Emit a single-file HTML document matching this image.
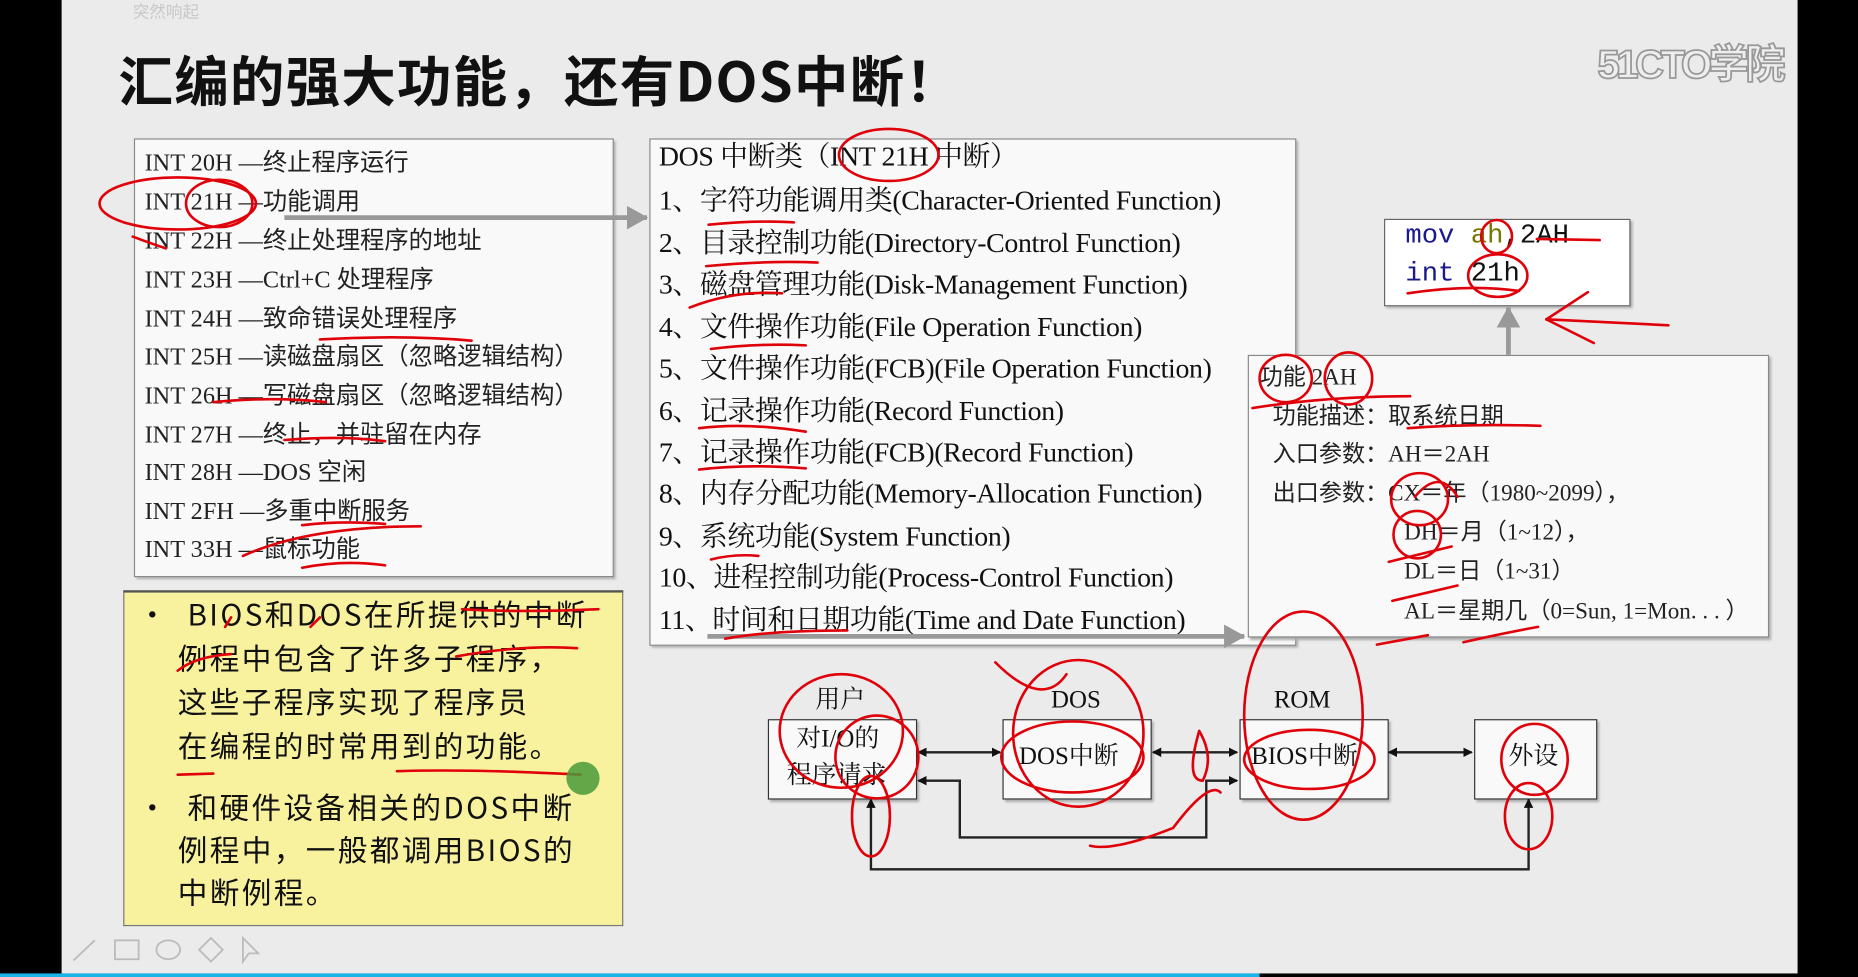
<!DOCTYPE html>
<html><head><meta charset="utf-8"><style>
html,body{margin:0;padding:0;width:1858px;height:977px;overflow:hidden;background:#000}
#s{position:absolute;left:0;top:0;width:1568px;height:826px;transform:scale(1.18495,1.1828);transform-origin:0 0;background:#000;font-family:"Liberation Serif","Noto Serif CJK SC",serif}
.bg{position:absolute;left:52px;top:0;width:1465px;height:823px;background:#ebebeb}
.t{position:absolute;white-space:nowrap;line-height:1}
.box{position:absolute;background:#f9f9f9;border:1px solid #888;box-shadow:2px 2px 2px #aaa}
.l{font-family:"Liberation Serif","Noto Sans CJK SC",sans-serif;font-size:20.5px;color:#222}
.m{font-family:"Liberation Serif","Noto Serif CJK SC",serif;font-size:23.5px;color:#111;letter-spacing:-0.3px}
.r{font-family:"Liberation Serif","Noto Sans CJK SC",sans-serif;font-size:19.5px;color:#222}
.y{font-family:"Noto Sans CJK SC",sans-serif;font-size:25px;color:#111;letter-spacing:2px}
.d{font-family:"Liberation Serif","Noto Serif CJK SC",serif;font-size:21px;color:#111}
</style></head><body><div id="s">
<div class="bg"></div>
<div style="position:absolute;left:0;top:823px;width:1063px;height:3px;background:#19b5e8"></div>
<div class="t" style="left:112px;top:3px;font-size:14px;color:#c8c8c8;font-family:'Noto Sans CJK SC',sans-serif">突然响起</div>
<div class="t" style="left:100px;top:44px;font-size:46px;font-weight:bold;color:#111;font-family:'Noto Sans CJK SC',sans-serif;letter-spacing:1px">汇编的强大功能，还有DOS中断！</div>
<div class="t" style="left:1348px;top:38px;font-size:34px;font-weight:bold;color:#eee;-webkit-text-stroke:1.5px #999;font-family:'Liberation Sans','Noto Sans CJK SC',sans-serif;letter-spacing:-3px">51CTO学院</div>

<div class="box" style="left:113px;top:117px;width:403px;height:369px"></div>
<div class="t l" style="left:122px;top:128px">INT 20H —终止程序运行</div>
<div class="t l" style="left:122px;top:161px">INT 21H —功能调用</div>
<div class="t l" style="left:122px;top:194px">INT 22H —终止处理程序的地址</div>
<div class="t l" style="left:122px;top:227px">INT 23H —Ctrl+C 处理程序</div>
<div class="t l" style="left:122px;top:260px">INT 24H —致命错误处理程序</div>
<div class="t l" style="left:122px;top:292px">INT 25H —读磁盘扇区（忽略逻辑结构）</div>
<div class="t l" style="left:122px;top:325px">INT 26H —写磁盘扇区（忽略逻辑结构）</div>
<div class="t l" style="left:122px;top:358px">INT 27H —终止，并驻留在内存</div>
<div class="t l" style="left:122px;top:390px">INT 28H —DOS 空闲</div>
<div class="t l" style="left:122px;top:423px">INT 2FH —多重中断服务</div>
<div class="t l" style="left:122px;top:455px">INT 33H —鼠标功能</div>

<div class="box" style="left:548px;top:117px;width:544px;height:427px"></div>
<div class="t m" style="left:556px;top:122px">DOS 中断类（INT 21H 中断）</div>
<div class="t m" style="left:556px;top:159px">1、字符功能调用类(Character-Oriented Function)</div>
<div class="t m" style="left:556px;top:195px">2、目录控制功能(Directory-Control Function)</div>
<div class="t m" style="left:556px;top:230px">3、磁盘管理功能(Disk-Management Function)</div>
<div class="t m" style="left:556px;top:266px">4、文件操作功能(File Operation Function)</div>
<div class="t m" style="left:556px;top:301px">5、文件操作功能(FCB)(File Operation Function)</div>
<div class="t m" style="left:556px;top:337px">6、记录操作功能(Record Function)</div>
<div class="t m" style="left:556px;top:372px">7、记录操作功能(FCB)(Record Function)</div>
<div class="t m" style="left:556px;top:407px">8、内存分配功能(Memory-Allocation Function)</div>
<div class="t m" style="left:556px;top:443px">9、系统功能(System Function)</div>
<div class="t m" style="left:556px;top:478px">10、进程控制功能(Process-Control Function)</div>
<div class="t m" style="left:556px;top:514px">11、时间和日期功能(Time and Date Function)</div>

<div class="box" style="left:1168px;top:185px;width:206px;height:72px;background:#fff;border-color:#666"></div>
<div class="t" style="left:1186px;top:188px;font-size:23px;font-family:'Liberation Mono',monospace;color:#111"><span style="color:#1a1a8c">mov</span> <span style="color:#777700">ah</span>,2AH</div>
<div class="t" style="left:1186px;top:220px;font-size:23px;font-family:'Liberation Mono',monospace;color:#111"><span style="color:#1a1a8c">int</span> 21h</div>

<div class="box" style="left:1053px;top:300px;width:438px;height:237px"></div>
<div class="t r" style="left:1063px;top:310px">功能 2AH</div>
<div class="t r" style="left:1074px;top:343px">功能描述：取系统日期</div>
<div class="t r" style="left:1074px;top:375px">入口参数：AH＝2AH</div>
<div class="t r" style="left:1074px;top:408px">出口参数：CX＝年（1980~2099），</div>
<div class="t r" style="left:1185px;top:441px">DH＝月（1~12），</div>
<div class="t r" style="left:1185px;top:474px">DL＝日（1~31）</div>
<div class="t r" style="left:1185px;top:508px">AL＝星期几（0=Sun, 1=Mon. . . ）</div>

<div style="position:absolute;left:104px;top:499px;width:420px;height:281px;background:#f8f29e;border:1px solid #777;border-top:2px solid #555"></div>
<div class="t y" style="left:116px;top:507px">•&nbsp; BIOS和DOS在所提供的中断</div>
<div class="t y" style="left:150px;top:544px">例程中包含了许多子程序，</div>
<div class="t y" style="left:150px;top:581px">这些子程序实现了程序员</div>
<div class="t y" style="left:150px;top:618px">在编程的时常用到的功能。</div>
<div class="t y" style="left:116px;top:670px">•&nbsp; 和硬件设备相关的DOS中断</div>
<div class="t y" style="left:150px;top:706px">例程中，一般都调用BIOS的</div>
<div class="t y" style="left:150px;top:742px">中断例程。</div>

<div class="box" style="left:648px;top:608px;width:124px;height:66px;border-color:#333"></div>
<div class="box" style="left:846px;top:608px;width:124px;height:66px;border-color:#333"></div>
<div class="box" style="left:1046px;top:608px;width:124px;height:66px;border-color:#333"></div>
<div class="box" style="left:1244px;top:608px;width:102px;height:66px;border-color:#333"></div>
<div class="t d" style="left:688px;top:581px">用户</div>
<div class="t d" style="left:887px;top:581px">DOS</div>
<div class="t d" style="left:1075px;top:581px">ROM</div>
<div class="t d" style="left:672px;top:614px">对I/O的</div>
<div class="t d" style="left:664px;top:645px">程序请求</div>
<div class="t d" style="left:860px;top:629px">DOS中断</div>
<div class="t d" style="left:1056px;top:629px">BIOS中断</div>
<div class="t d" style="left:1273px;top:629px">外设</div>

<svg width="1568" height="826" style="position:absolute;left:0;top:0" viewBox="0 0 1568 826">
<defs>
<marker id="a" markerWidth="8" markerHeight="8" refX="7" refY="4" orient="auto-start-reverse" markerUnits="userSpaceOnUse"><path d="M0,0 L8,4 L0,8z" fill="#111"/></marker>
<marker id="g" markerWidth="18" markerHeight="20" refX="17" refY="10" orient="auto" markerUnits="userSpaceOnUse"><path d="M0,0 L18,10 L0,20z" fill="#999"/></marker>
</defs>
<g stroke="#999" stroke-width="4" fill="none">
<line x1="240" y1="184" x2="546" y2="184" marker-end="url(#g)"/>
<line x1="597" y1="538" x2="1050" y2="538" marker-end="url(#g)"/>
<line x1="1273" y1="300" x2="1273" y2="260" marker-end="url(#g)"/>
</g>
<g stroke="#222" stroke-width="2" fill="none">
<line x1="775" y1="636" x2="844" y2="636" marker-start="url(#a)" marker-end="url(#a)"/>
<line x1="973" y1="636" x2="1044" y2="636" marker-start="url(#a)" marker-end="url(#a)"/>
<line x1="1172" y1="636" x2="1242" y2="636" marker-start="url(#a)" marker-end="url(#a)"/>
<polyline points="775,660 810,660 810,708 1018,708 1018,660 1044,660" marker-start="url(#a)" marker-end="url(#a)"/>
<polyline points="735,676 735,735 1290,735 1290,676" marker-start="url(#a)" marker-end="url(#a)"/>
</g>
<g stroke="#e0000a" stroke-width="2.2" fill="none" stroke-linecap="round">
<ellipse cx="150" cy="172" rx="66" ry="22"/>
<ellipse cx="185" cy="172" rx="28" ry="20"/>
<path d="M112,200 Q125,205 140,210"/>
<path d="M180,340 Q230,335 275,340"/><path d="M240,372 Q290,368 325,373"/>
<path d="M270,287 Q340,283 398,288"/>
<path d="M255,444 Q290,440 325,443"/><path d="M255,480 Q290,473 325,478"/><path d="M205,470 Q260,445 355,445"/>
<ellipse cx="750" cy="131" rx="42" ry="22"/>
<path d="M598,190 Q640,186 670,188"/><path d="M596,225 Q650,220 690,222"/><path d="M582,260 Q620,245 660,248"/>
<path d="M600,295 Q640,290 680,292"/><path d="M590,362 Q630,357 680,365"/><path d="M590,397 Q630,392 680,396"/>
<path d="M600,473 Q620,468 640,470"/><path d="M612,540 Q650,533 715,533"/>
<ellipse cx="1263" cy="200" rx="13" ry="14"/><ellipse cx="1264" cy="233" rx="25" ry="18"/>
<path d="M1188,248 Q1240,240 1282,246"/><path d="M1297,202 L1350,203"/>
<path d="M1305,270 Q1350,272 1408,275"/><path d="M1305,270 L1340,247"/><path d="M1305,270 L1345,290"/>
<ellipse cx="1085" cy="320" rx="22" ry="20"/><ellipse cx="1138" cy="320" rx="20" ry="22"/>
<path d="M1057,345 Q1120,335 1190,335"/><path d="M1188,362 Q1240,358 1300,360"/>
<path d="M1194,420 Q1215,395 1230,420"/><ellipse cx="1198" cy="422" rx="24" ry="22"/><ellipse cx="1196" cy="452" rx="20" ry="20"/>
<path d="M1172,475 L1225,462"/><path d="M1175,508 L1230,495"/><path d="M1162,545 L1205,537"/><path d="M1235,543 Q1270,535 1298,530"/>
<path d="M190,530 L195,522"/><path d="M262,530 L270,522"/><path d="M390,515 Q440,518 505,515"/>
<path d="M150,567 Q165,555 195,553"/><path d="M385,555 Q440,545 487,548"/>
<path d="M150,655 L180,654"/><path d="M335,652 Q400,650 490,655"/>
<ellipse cx="710" cy="618" rx="52" ry="48"/><ellipse cx="740" cy="640" rx="35" ry="35"/>
<ellipse cx="910" cy="620" rx="55" ry="62"/><ellipse cx="905" cy="640" rx="60" ry="30"/>
<path d="M840,560 Q880,600 900,570"/>
<ellipse cx="1100" cy="605" rx="50" ry="88"/><ellipse cx="1105" cy="642" rx="55" ry="25"/>
<ellipse cx="1295" cy="642" rx="28" ry="30"/><ellipse cx="1290" cy="690" rx="20" ry="28"/>
<ellipse cx="735" cy="690" rx="16" ry="34"/><path d="M1012,618 Q1000,660 1015,660 Q1025,640 1012,618"/>
<path d="M920,715 Q940,720 990,700 Q1020,660 1030,670"/>
</g>
<circle cx="492" cy="658" r="14" fill="#4a9a38" opacity="0.85"/>
<g stroke="#bbb" stroke-width="1.5" fill="none">
<path d="M62,812 L80,795"/><rect x="97" y="795" width="20" height="16"/><ellipse cx="142" cy="803" rx="10" ry="8"/><path d="M168,803 L178,793 L188,803 L178,813z"/><path d="M205,793 L205,813 L210,806 L218,806z"/>
</g>
</svg>
</div></body></html>
